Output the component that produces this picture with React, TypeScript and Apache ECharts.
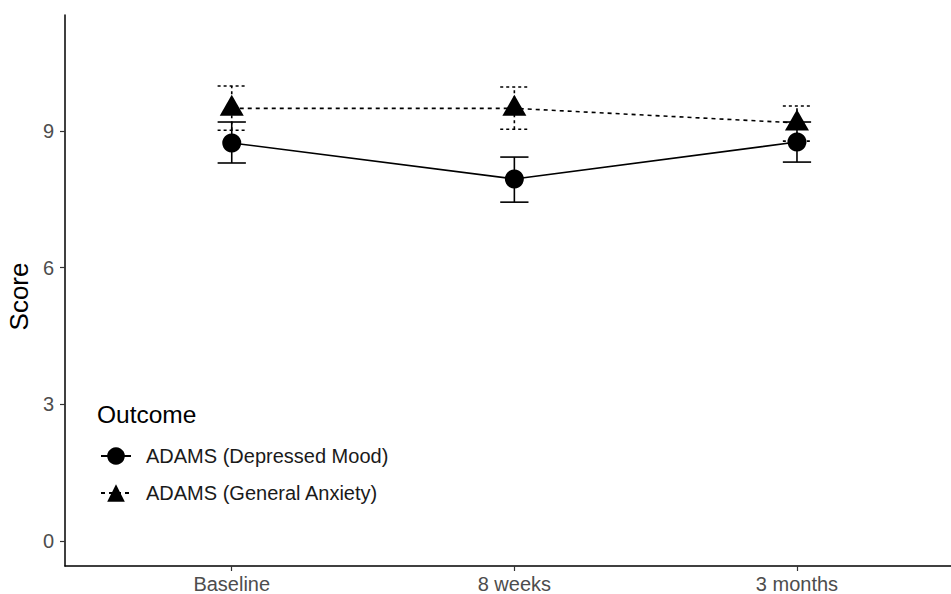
import React, { useEffect, useRef } from "react";
import * as echarts from "echarts";

const categories = ["Baseline", "8 weeks", "3 months"];
const seriesNames = ["ADAMS (Depressed Mood)", "ADAMS (General Anxiety)"];
const depMean = [8.74, 7.95, 8.76];
const depLow = [8.3, 7.44, 8.32];
const depHigh = [9.2, 8.43, 9.2];
const anxMean = [9.5, 9.5, 9.18];
const anxLow = [9.02, 9.04, 8.78];
const anxHigh = [9.99, 9.97, 9.55];
const yTicks = [0, 3, 6, 9];

const FONT = "Liberation Sans, Arial, Helvetica, sans-serif";

function errorSeries(name: string, low: number[], high: number[], dash: number[] | null) {
  return {
    type: "custom",
    name: name,
    z: 1,
    silent: true,
    data: categories.map((_, i) => [i + 1, low[i], high[i]]),
    encode: { x: 0, y: [1, 2] },
    renderItem: (params: any, api: any) => {
      const x = api.value(0);
      const lo = api.coord([x, api.value(1)]);
      const hi = api.coord([x, api.value(2)]);
      const hw = api.size([0.1, 0])[0] / 2;
      const style = { stroke: "#000", lineWidth: 1.6, lineDash: dash || undefined, fill: null };
      return {
        type: "group",
        children: [
          { type: "line", shape: { x1: lo[0], y1: lo[1], x2: hi[0], y2: hi[1] }, style },
          { type: "line", shape: { x1: lo[0] - hw, y1: lo[1], x2: lo[0] + hw, y2: lo[1] }, style },
          { type: "line", shape: { x1: hi[0] - hw, y1: hi[1], x2: hi[0] + hw, y2: hi[1] }, style },
        ],
      };
    },
  };
}

export default function App() {
  const ref = useRef<HTMLDivElement>(null);
  useEffect(() => {
    if (!ref.current) return;
    const chart = echarts.init(ref.current, undefined, { renderer: "svg" });
    const option: any = {
      animation: false,
      backgroundColor: "#fff",
      textStyle: { fontFamily: FONT },
      grid: { left: 65, right: 0, top: 15, bottom: 28, containLabel: false, outerBoundsMode: "none" },
      title: {
        text: "Outcome",
        left: 92,
        top: 397,
        textStyle: { fontFamily: FONT, fontSize: 24.5, fontWeight: "normal", color: "#000" },
      },
      legend: {
        orient: "vertical",
        left: 95,
        top: 441,
        itemWidth: 30,
        itemHeight: 22,
        itemGap: 17,
        data: seriesNames,
        textStyle: { fontFamily: FONT, fontSize: 20, color: "#1a1a1a", padding: [0, 0, 0, 10] },
      },
      xAxis: {
        type: "value",
        min: 0.41,
        max: 3.545,
        splitLine: { show: false },
        axisLine: { show: true, onZero: false, lineStyle: { color: "#000", width: 1.5 } },
        axisTick: { show: true, length: 5, customValues: [1, 2, 3], lineStyle: { color: "#333", width: 1.2 } },
        axisLabel: {
          customValues: [1, 2, 3],
          formatter: (v: number) => categories[Math.round(v) - 1] || "",
          color: "#4d4d4d",
          fontSize: 20,
          fontFamily: FONT,
          margin: 8,
        },
      },
      yAxis: {
        type: "value",
        min: -0.55,
        max: 11.55,
        name: "Score",
        nameLocation: "middle",
        nameGap: 32,
        nameTextStyle: { fontFamily: FONT, fontSize: 26, color: "#000", padding: [0, 12, 0, 0] },
        splitLine: { show: false },
        axisLine: { show: true, onZero: false, lineStyle: { color: "#000", width: 1.5 } },
        axisTick: { show: true, length: 5, customValues: yTicks, lineStyle: { color: "#333", width: 1.2 } },
        axisLabel: {
          customValues: yTicks,
          color: "#4d4d4d",
          fontSize: 20,
          fontFamily: FONT,
          margin: 11,
        },
      },
      series: [
        errorSeries("err-dep", depLow, depHigh, null),
        errorSeries("err-anx", anxLow, anxHigh, [3, 3]),
        {
          type: "line",
          name: seriesNames[0],
          z: 3,
          data: categories.map((_, i) => [i + 1, depMean[i]]),
          symbol: "circle",
          symbolSize: 19,
          lineStyle: { color: "#000", width: 1.6, type: "solid" },
          itemStyle: { color: "#000" },
        },
        {
          type: "line",
          name: seriesNames[1],
          z: 3,
          data: categories.map((_, i) => [i + 1, anxMean[i]]),
          symbol: "triangle",
          symbolSize: [24, 21],
          symbolOffset: [0, -3],
          lineStyle: { color: "#000", width: 1.6, type: [4, 4] },
          itemStyle: { color: "#000" },
        },
      ],
    };
    chart.setOption(option);
    return () => chart.dispose();
  }, []);
  return <div ref={ref} style={{ width: 951, height: 594, position: "absolute", left: 0, top: 0 }} />;
}
